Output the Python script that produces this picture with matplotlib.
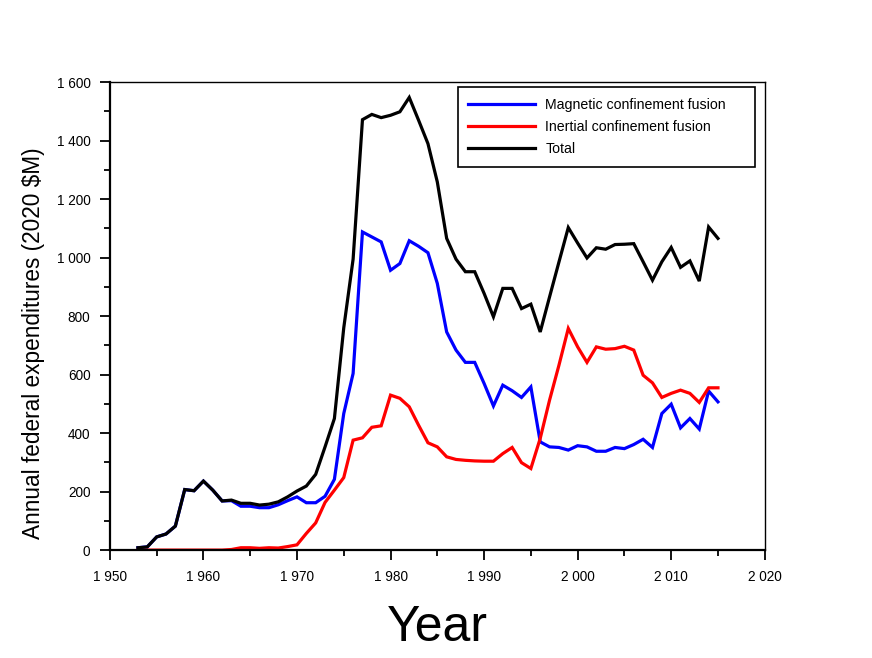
import numpy as np
import matplotlib
matplotlib.use("Agg")
import matplotlib.pyplot as plt
from matplotlib.ticker import FuncFormatter, MultipleLocator

plt.rcParams['font.family'] = ['Liberation Sans', 'DejaVu Sans']

# DATA (2020 $M)
years = list(range(1953, 2016))

total = [8, 11, 45, 55, 82, 207, 203, 236, 205, 168,
         171, 160, 160, 154, 157, 165, 182, 202, 219, 259,
         353, 450, 760, 995, 1472, 1490, 1479, 1487, 1499, 1548,
         1470, 1390, 1259, 1066, 995, 952, 952, 878, 798, 895,
         895, 826, 841, 746, 866, 985, 1103, 1050, 999, 1034,
         1029, 1045, 1046, 1048, 986, 923, 986, 1035, 967, 989,
         920, 1105, 1066]

magnetic = [8, 11, 45, 55, 82, 207, 203, 236, 205, 168,
            169, 150, 150, 145, 145, 155, 169, 182, 162, 162,
            184, 242, 467, 604, 1088, 1071, 1054, 957, 980, 1058,
            1039, 1017, 912, 746, 684, 642, 642, 570, 493, 564,
            545, 522, 558, 370, 353, 351, 342, 357, 353, 338,
            338, 351, 347, 361, 379, 351, 467, 499, 418, 450,
            414, 544, 507]

inertial = [0, 0, 0, 0, 0, 0, 0, 0, 0, 0,
            2, 8, 8, 6, 8, 7, 12, 18, 57, 93,
            163, 205, 248, 376, 384, 420, 425, 530, 519, 490,
            427, 367, 353, 319, 310, 307, 305, 304, 304, 330,
            351, 299, 279, 382, 513, 632, 758, 695, 642, 695,
            687, 689, 697, 684, 598, 572, 522, 536, 547, 536,
            505, 555, 555]

labels = ["Magnetic confinement fusion", "Inertial confinement fusion", "Total"]
colors = ["#0000ff", "#ff0000", "#000000"]

fig = plt.figure(figsize=(8.72, 6.58), dpi=100)
ax = fig.add_axes([0.126, 0.164, 0.751, 0.711])

for vals, lab, col in zip([magnetic, inertial, total], labels, colors):
    ax.plot(years, vals, color=col, lw=2.3, label=lab, solid_joinstyle='miter')

ax.set_xlim(1950, 2020)
ax.set_ylim(0, 1600)
ax.xaxis.set_major_locator(MultipleLocator(10))
ax.xaxis.set_minor_locator(MultipleLocator(5))
ax.yaxis.set_major_locator(MultipleLocator(200))
ax.yaxis.set_minor_locator(MultipleLocator(100))

fmt = FuncFormatter(lambda v, p: f"{v:,.0f}".replace(",", " "))
ax.xaxis.set_major_formatter(fmt)
ax.yaxis.set_major_formatter(fmt)

ax.tick_params(which='major', direction='out', length=7, width=1.3, labelsize=9.8, pad=7)
ax.tick_params(which='minor', direction='out', length=4, width=1.3)
ax.spines['left'].set_linewidth(1.6)
ax.spines['bottom'].set_linewidth(1.6)
ax.spines['top'].set_linewidth(1.0)
ax.spines['right'].set_linewidth(1.0)

ax.set_xlabel("Year", fontsize=36)
ax.xaxis.set_label_coords(0.5, -0.117, transform=ax.transAxes)
ax.xaxis.label.set_va('top')
ax.set_ylabel("Annual federal expenditures (2020 $M)", fontsize=16.3)
ax.yaxis.set_label_coords(-0.099, 0.442, transform=ax.transAxes)

leg = ax.legend(loc='upper left', bbox_to_anchor=(0.531, 0.0, 0.454, 0.989),
                mode='expand', fontsize=10.2,
                fancybox=False, edgecolor='black', framealpha=1,
                handlelength=4.7, handletextpad=0.75, borderpad=0.75,
                labelspacing=0.57, borderaxespad=0)
leg.get_frame().set_linewidth(1.2)

fig.savefig("out.png", dpi=100)
